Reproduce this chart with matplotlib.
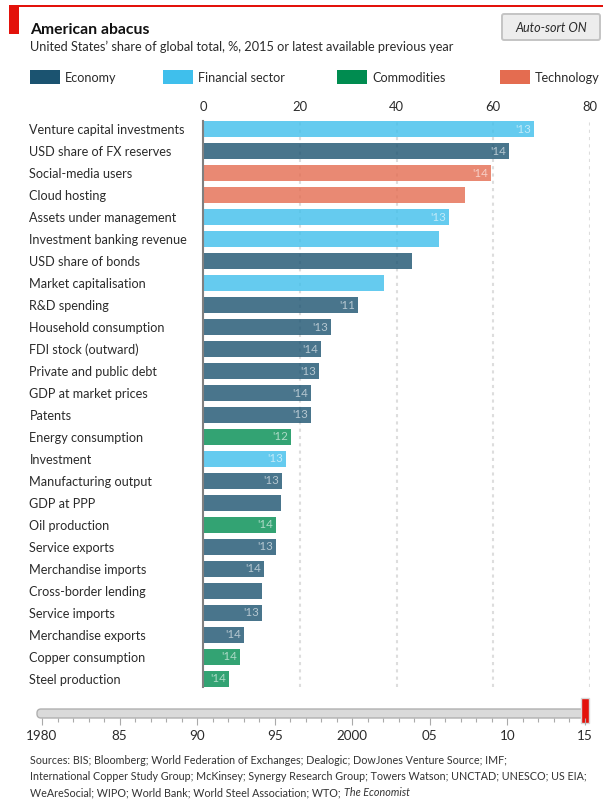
import matplotlib
matplotlib.use('Agg')
import matplotlib.pyplot as plt
from matplotlib.patches import Rectangle, FancyBboxPatch

W, H = 616, 810

categories = ['Venture capital investments', 'USD share of FX reserves', 'Social-media users',
              'Cloud hosting', 'Assets under management', 'Investment banking revenue',
              'USD share of bonds', 'Market capitalisation', 'R&D spending',
              'Household consumption', 'FDI stock (outward)', 'Private and public debt',
              'GDP at market prices', 'Patents', 'Energy consumption', 'Investment',
              'Manufacturing output', 'GDP at PPP', 'Oil production', 'Service exports',
              'Merchandise imports', 'Cross-border lending', 'Service imports',
              'Merchandise exports', 'Copper consumption', 'Steel production']
values = [68.4, 63.2, 59.5, 54.1, 50.8, 48.8, 43.2, 37.4, 32.0, 26.4, 24.4, 24.0, 22.3,
          22.3, 18.2, 17.1, 16.3, 16.1, 15.1, 15.1, 12.6, 12.2, 12.2, 8.5, 7.6, 5.4]
groups = ['fin', 'eco', 'tech', 'tech', 'fin', 'fin', 'eco', 'fin', 'eco', 'eco', 'eco', 'eco',
          'eco', 'eco', 'com', 'fin', 'eco', 'eco', 'com', 'eco', 'eco', 'eco', 'eco', 'eco',
          'com', 'com']
years = ["'13", "'14", "'14", '', "'13", '', '', '', "'11", "'13", "'14", "'13", "'14", "'13",
         "'12", "'13", "'13", '', "'14", "'13", "'14", '', "'13", "'14", "'14", "'14"]
x_ticks = [0, 20, 40, 60, 80]
legend_names = ['Economy', 'Financial sector', 'Commodities', 'Technology']
legend_keys = ['eco', 'fin', 'com', 'tech']
slider_majors = [1980, 1985, 1990, 1995, 2000, 2005, 2010, 2015]
slider_labels = ['1980', '85', '90', '95', '2000', '05', '10', '15']
slider_minors = list(range(1980, 2016))
sources = ['Sources: BIS; Bloomberg; World Federation of Exchanges; Dealogic; DowJones Venture Source; IMF;',
           'International Copper Study Group; McKinsey; Synergy Research Group; Towers Watson; UNCTAD; UNESCO; US EIA;',
           'WeAreSocial; WIPO; World Bank; World Steel Association; WTO; ']

colors = {'eco': '#1B5370', 'fin': '#3FBFEC', 'com': '#008C50', 'tech': '#E46C50'}
plt.rcParams['font.family'] = ['Lato', 'DejaVu Sans']
TXT = '#2b2b2b'


def px(size):
    return size * 72 / 100


def box(x0, y0, x1, y1):
    # pixel box, y measured from the top
    return [x0 / W, 1 - y1 / H, (x1 - x0) / W, (y1 - y0) / H]


fig = plt.figure(figsize=(W / 100, H / 100), dpi=100, facecolor='white')

# page furniture in pixel coords
bg = fig.add_axes([0, 0, 1, 1])
bg.set_xlim(0, W)
bg.set_ylim(H, 0)
bg.axis('off')
bg.add_patch(Rectangle((9, 5), 594, 1.8, color='#E3120B', lw=0))
bg.add_patch(Rectangle((9, 5), 10, 29, color='#E3120B', lw=0))
bg.text(30, 29.5, 'American abacus', fontsize=px(15.7), fontweight='bold', color='#111111', va='center')
bg.text(30, 47, 'United States\u2019 share of global total, %, 2015 or latest available previous year',
        fontsize=px(12.8), color=TXT, va='center')
bg.add_patch(FancyBboxPatch((502, 14), 98, 26, boxstyle='round,pad=0,rounding_size=2',
                            fc='#EDEDED', ec='#C4C4C4', lw=1.4))
bg.text(551, 27.5, 'Auto-sort ON', fontsize=px(12.6), style='italic', color=TXT, ha='center', va='center')

for name, key, x0 in zip(legend_names, legend_keys, [30, 163, 337, 500]):
    bg.add_patch(Rectangle((x0, 70), 30, 14, color=colors[key], lw=0))
    bg.text(x0 + 35, 77.5, name, fontsize=px(12.6), color=TXT, va='center')

# bars
ax = fig.add_axes(box(203, 121, 590, 687))
ax.patch.set_alpha(0)
pos = list(range(len(categories)))
ax.set_axisbelow(True)
ax.grid(axis='x', color='#DDDDDD', lw=1.5, ls=(0, (1.5, 2)))
ax.barh(pos, values, height=16 / 22, color=[colors[g] for g in groups], alpha=0.8, lw=0)
ax.set_xlim(0, 80)
ax.set_ylim(25.364, -0.364)
ax.set_yticks(pos)
ax.set_yticklabels(categories, fontsize=px(12.6), color=TXT, ha='left')
ax.tick_params(axis='y', length=0, pad=125)
ax.xaxis.tick_top()
ax.set_xticks(x_ticks)
ax.tick_params(axis='x', length=0, pad=5.5, labelsize=px(13), labelcolor=TXT)
for s in ['top', 'right', 'bottom']:
    ax.spines[s].set_visible(False)
ax.spines['left'].set_color('#808080')
ax.spines['left'].set_linewidth(1.5)
for i, (v, y) in enumerate(zip(values, years)):
    if y:
        ax.annotate(y, (v, i), xytext=(-2, 0), textcoords='offset points', ha='right', va='center',
                    fontsize=px(11.5), color='white', alpha=0.6)

# year slider
sl = fig.add_axes(box(42, 709, 585, 718))
sl.set_xlim(1980, 2015)
sl.set_ylim(0, 1)
sl.patch.set_alpha(0)
for s in sl.spines.values():
    s.set_visible(False)
sl.set_yticks([])
sl.set_xticks(slider_majors)
sl.set_xticklabels(slider_labels, fontsize=px(13.5), color=TXT)
sl.set_xticks(slider_minors, minor=True)
sl.tick_params(axis='x', which='major', length=5, width=0.8, color='#AAAAAA', pad=4)
sl.tick_params(axis='x', which='minor', length=3, width=0.8, color='#AAAAAA')
bg.add_patch(FancyBboxPatch((37, 709), 547, 9, boxstyle='round,pad=0,rounding_size=4',
                            fc='#DADADA', ec='#B0B0B0', lw=1))
bg.add_patch(Rectangle((580.5, 698), 8, 25, fc='#E3120B', ec='#D8D8D8', lw=1, zorder=5))

# sources
for line, y in zip(sources, [761, 777, 793]):
    t = bg.text(30, y, line, fontsize=px(10.7), color='#333333', va='center')
fig.canvas.draw()
end = t.get_window_extent().x1
bg.text(end + 1, 793, 'The Economist', fontsize=px(10.7), style='italic', color='#333333', va='center')

fig.savefig('out.png', dpi=100)
